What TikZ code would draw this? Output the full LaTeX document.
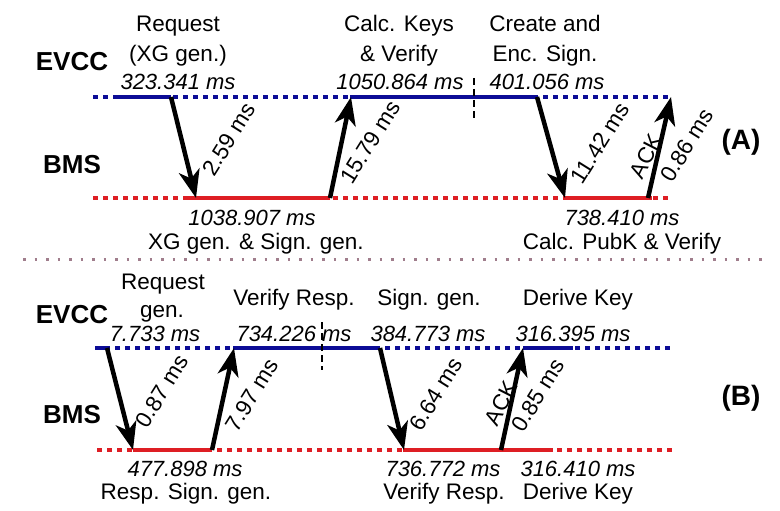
\documentclass[tikz,border=0pt]{standalone}
\usepackage{fontspec}
\setmainfont{Liberation Sans}
\usetikzlibrary{arrows.meta}
\definecolor{evblue}{RGB}{12,12,150}
\definecolor{bmsred}{RGB}{222,30,36}
\definecolor{sepgray}{RGB}{160,125,140}
\begin{document}
\begin{tikzpicture}[x=1pt,y=-1pt,
  txt/.style={font=\fontsize{22.5}{27}\selectfont, inner sep=0pt, anchor=base},
  num/.style={font=\fontsize{22}{27}\selectfont\itshape, inner sep=0pt, anchor=base},
  actor/.style={font=\fontsize{26}{30}\selectfont\bfseries, inner sep=0pt, anchor=base},
  tag/.style={font=\fontsize{28}{32}\selectfont\bfseries, inner sep=0pt},
  lbl/.style={font=\fontsize{22.5}{26}\selectfont, inner sep=0pt, rotate=58},
  acklbl/.style={font=\fontsize{22.5}{26}\selectfont, inner sep=0pt, rotate=63},
  idle/.style={line width=4.5pt, dash pattern=on 5pt off 5pt, line cap=butt},
  busy/.style={line width=4.5pt, line cap=butt},
  msg/.style={line width=4.5pt, -{Stealth[length=28pt,width=21pt,inset=8pt]}},
  sepline/.style={line width=2.5pt, dash pattern=on 2.5pt off 9pt, sepgray},
  vdash/.style={line width=2pt, dash pattern=on 7pt off 4pt, black}
]
\useasboundingbox (0,0) rectangle (780,511);

% ================= (A) =================
\node[actor] (evccA) at (72,71) {EVCC};
\node[actor] (bmsA) at (72,173) {BMS};
\node[tag] (tagA) at (741,142) {(A)};

% timelines
\draw[idle, evblue] (93,97) -- (670,97);
\draw[busy, evblue] (118,97) -- (171,97);
\draw[busy, evblue] (350,97) -- (537,97);
\draw[idle, bmsred] (93,198) -- (672,198);
\draw[busy, bmsred] (186,198) -- (330,198);
\draw[busy, bmsred] (565,198) -- (652,198);
\draw[vdash] (474,78) -- (474,118);

% top texts
\node[txt] (a1) at (178,32) {Request};
\node[txt] (a2) at (178,62) {(XG gen.)};
\node[num] (a3) at (178,90) {323.341 ms};
\node[txt] (a4) at (399,32) {Calc. Keys};
\node[txt] (a5) at (399,62) {\& Verify};
\node[num] (a6) at (400,90) {1050.864 ms};
\node[txt] (a7) at (545,32) {Create and};
\node[txt] (a8) at (545,62) {Enc. Sign.};
\node[num] (a9) at (547,90) {401.056 ms};
% bottom texts
\node[num] (a10) at (252,225) {1038.907 ms};
\node[txt] (a11) at (256,249) {XG gen. \& Sign. gen.};
\node[num] (a12) at (622,225) {738.410 ms};
\node[txt] (a13) at (622,249) {Calc. PubK \& Verify};

% messages
\coordinate (mA1s) at (171,97);  \coordinate (mA1e) at (196,198);
\coordinate (mA2s) at (330,198); \coordinate (mA2e) at (351,97);
\coordinate (mA3s) at (537,97);  \coordinate (mA3e) at (565,198);
\coordinate (mA4s) at (648,198); \coordinate (mA4e) at (671,97);
\draw[msg] (mA1s) -- (mA1e);
\draw[msg] (mA2s) -- (mA2e);
\draw[msg] (mA3s) -- (mA3e);
\draw[msg] (mA4s) -- (mA4e);
\node[lbl] (lA1) at (229,139) {2.59 ms};
\node[lbl] (lA2) at (370,142) {15.79 ms};
\node[lbl] (lA3) at (600,143) {11.42 ms};
\node[acklbl] (lA4) at (646,156) {ACK};
\node[lbl] (lA5) at (687,145) {0.86 ms};

% separator
\draw[sepline] (23,259.5) -- (770,259.5);

% ================= (B) =================
\node[actor] (evccB) at (72,323) {EVCC};
\node[actor] (bmsB) at (72,423) {BMS};
\node[tag] (tagB) at (741,398) {(B)};

\draw[idle, evblue] (95,348) -- (672,348);
\draw[busy, evblue] (95,348) -- (107,348);
\draw[busy, evblue] (233,348) -- (380,348);
\draw[busy, evblue] (523,348) -- (573,348);
\draw[idle, bmsred] (97,450) -- (672,450);
\draw[busy, bmsred] (133,450) -- (212,450);
\draw[busy, bmsred] (403,450) -- (553,450);
\draw[vdash] (322,322) -- (322,370);

\node[txt] (b1) at (163,289) {Request};
\node[txt] (b2) at (162,317) {gen.};
\node[num] (b3) at (155,341) {7.733 ms};
\node[txt] (b4) at (294,305) {Verify Resp.};
\node[num] (b5) at (294,341) {734.226 ms};
\node[txt] (b6) at (429,305) {Sign. gen.};
\node[num] (b7) at (428,341) {384.773 ms};
\node[txt] (b8) at (578,305) {Derive Key};
\node[num] (b9) at (573,341) {316.395 ms};
\node[num] (b10) at (185,476) {477.898 ms};
\node[txt] (b11) at (186,499) {Resp. Sign. gen.};
\node[num] (b12) at (443,476) {736.772 ms};
\node[txt] (b13) at (444,499) {Verify Resp.};
\node[num] (b14) at (578,476) {316.410 ms};
\node[txt] (b15) at (578,499) {Derive Key};

\coordinate (mB1s) at (107,348); \coordinate (mB1e) at (133,450);
\coordinate (mB2s) at (212,450); \coordinate (mB2e) at (234,348);
\coordinate (mB3s) at (380,348); \coordinate (mB3e) at (404,450);
\coordinate (mB4s) at (501,450); \coordinate (mB4e) at (523,348);
\draw[msg] (mB1s) -- (mB1e);
\draw[msg] (mB2s) -- (mB2e);
\draw[msg] (mB3s) -- (mB3e);
\draw[msg] (mB4s) -- (mB4e);
\node[lbl] (lB1) at (162,391) {0.87 ms};
\node[lbl] (lB2) at (252,395) {7.97 ms};
\node[lbl] (lB3) at (436,394) {6.64 ms};
\node[acklbl] (lB4) at (501,403) {ACK};
\node[lbl] (lB5) at (538,395) {0.85 ms};
\end{tikzpicture}
\end{document}
